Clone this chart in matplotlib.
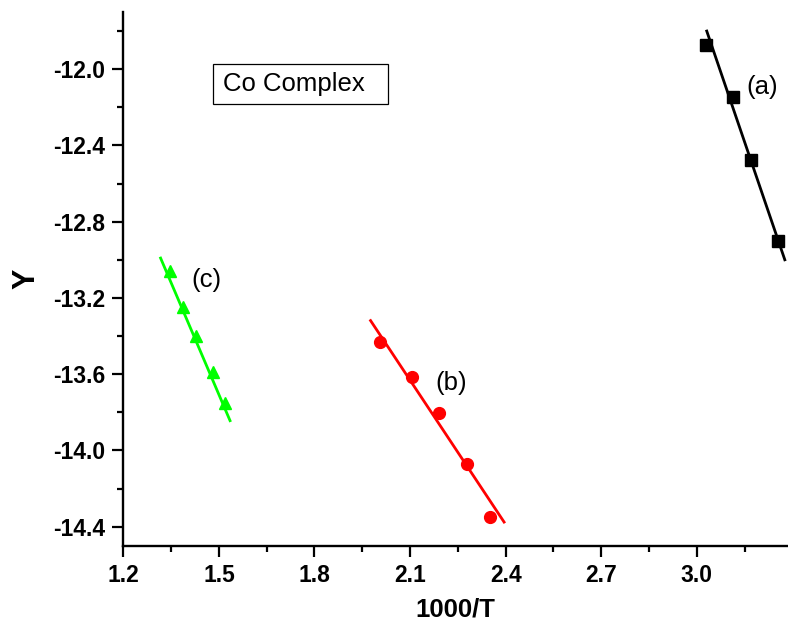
import matplotlib
matplotlib.use("Agg")
import matplotlib.pyplot as plt
from matplotlib.patches import Rectangle
from matplotlib.ticker import MultipleLocator, FormatStrFormatter

plt.rcParams['font.family'] = ['Liberation Sans', 'DejaVu Sans']

# series (a) Co complex, squares
a_x = [3.028, 3.112, 3.170, 3.256]
a_y = [-11.873, -12.144, -12.475, -12.900]
a_fit_x = [3.031, 3.276]
a_fit_y = [-11.80, -13.00]

# series (b), circles
b_x = [2.005, 2.105, 2.192, 2.278, 2.351]
b_y = [-13.433, -13.616, -13.805, -14.070, -14.348]
b_fit_x = [1.976, 2.395]
b_fit_y = [-13.319, -14.376]

# series (c), triangles
c_x = [1.347, 1.386, 1.428, 1.482, 1.520]
c_y = [-13.061, -13.247, -13.398, -13.590, -13.751]
c_fit_x = [1.317, 1.535]
c_fit_y = [-12.991, -13.844]

labels = ['(a)', '(b)', '(c)']
label_x = [3.205, 2.230, 1.460]
label_y = [-12.091, -13.647, -13.105]

fig = plt.figure(figsize=(7.88, 6.3), dpi=100)
ax = fig.add_axes([123.3 / 788, 84.3 / 630, 1 - 123.3 / 788, (545.7 - 12) / 630])

ax.plot(a_fit_x, a_fit_y, color='black', lw=2)
ax.plot(a_x, a_y, 's', color='black', ms=8, ls='none')
ax.plot(b_fit_x, b_fit_y, color='#ff0000', lw=2)
ax.plot(b_x, b_y, 'o', color='#ff0000', ms=8.5, ls='none')
ax.plot(c_fit_x, c_fit_y, color='#00ff00', lw=2)
ax.plot(c_x, c_y, '^', color='#00ff00', ms=9, ls='none')

for t, x, y in zip(labels, label_x, label_y):
    ax.text(x, y, t, fontsize=18.5, ha='center', va='center')

ax.set_xlim(1.2, 3.286)
ax.set_ylim(-14.5, -11.7)
ax.xaxis.set_major_locator(MultipleLocator(0.3))
ax.xaxis.set_minor_locator(MultipleLocator(0.15))
ax.yaxis.set_major_locator(MultipleLocator(0.4))
ax.yaxis.set_minor_locator(MultipleLocator(0.2))
ax.xaxis.set_major_formatter(FormatStrFormatter('%.1f'))
ax.yaxis.set_major_formatter(FormatStrFormatter('%.1f'))

for s in ['top', 'right']:
    ax.spines[s].set_visible(False)
for s in ['left', 'bottom']:
    ax.spines[s].set_linewidth(1.7)

ax.tick_params(which='major', direction='out', length=8, width=1.6, pad=5)
ax.tick_params(which='minor', direction='out', length=4.5, width=1.6)
for lbl in ax.get_xticklabels() + ax.get_yticklabels():
    lbl.set_fontsize(16.5)
    lbl.set_fontweight('bold')

ax.set_xlabel('1000/T', fontsize=18.5, fontweight='bold', labelpad=8)
ax.set_ylabel('Y', fontsize=22, fontweight='bold', labelpad=8)

# "Co Complex" label box
fig.patches.append(Rectangle((212.7 / 788, 1 - 104.3 / 630), 175.6 / 788, 40 / 630,
                             transform=fig.transFigure, fill=False, lw=0.9, ec='black'))
fig.text(294.2 / 788, 1 - 84.3 / 630, 'Co Complex', fontsize=18.5, ha='center', va='center')

fig.savefig('out.png', dpi=100)
